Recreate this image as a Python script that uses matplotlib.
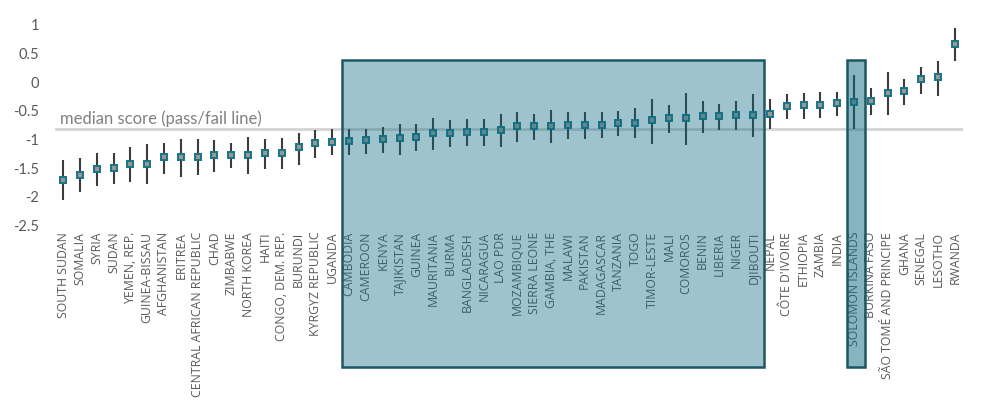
import numpy as np
import matplotlib.pyplot as plt
from matplotlib.patches import Rectangle

plt.rcParams['font.family'] = ['Lato', 'DejaVu Sans']

countries = ["SOUTH SUDAN", "SOMALIA", "SYRIA", "SUDAN", "YEMEN, REP.", "GUINEA-BISSAU",
             "AFGHANISTAN", "ERITREA", "CENTRAL AFRICAN REPUBLIC", "CHAD", "ZIMBABWE",
             "NORTH KOREA", "HAITI", "CONGO, DEM. REP.", "BURUNDI", "KYRGYZ REPUBLIC",
             "UGANDA", "CAMBODIA", "CAMEROON", "KENYA", "TAJIKISTAN", "GUINEA",
             "MAURITANIA", "BURMA", "BANGLADESH", "NICARAGUA", "LAO PDR", "MOZAMBIQUE",
             "SIERRA LEONE", "GAMBIA, THE", "MALAWI", "PAKISTAN", "MADAGASCAR",
             "TANZANIA", "TOGO", "TIMOR-LESTE", "MALI", "COMOROS", "BENIN", "LIBERIA",
             "NIGER", "DJIBOUTI", "NEPAL", "CÔTE D'IVOIRE", "ETHIOPIA", "ZAMBIA", "INDIA",
             "SOLOMON ISLANDS", "BURKINA FASO", "SÃO TOMÉ AND PRINCIPE", "GHANA",
             "SENEGAL", "LESOTHO", "RWANDA"]

score = [-1.71, -1.62, -1.52, -1.49, -1.43, -1.42, -1.31, -1.31, -1.30, -1.27,
         -1.27, -1.27, -1.24, -1.24, -1.14, -1.07, -1.04, -1.03, -1.01, -0.99,
         -0.98, -0.96, -0.88, -0.88, -0.87, -0.87, -0.83, -0.77, -0.77, -0.77,
         -0.75, -0.75, -0.75, -0.71, -0.71, -0.67, -0.63, -0.63, -0.60, -0.60,
         -0.57, -0.57, -0.55, -0.41, -0.40, -0.40, -0.37, -0.34, -0.33, -0.19,
         -0.16, 0.05, 0.08, 0.67]

upper = [-1.36, -1.33, -1.24, -1.24, -1.14, -1.08, -1.06, -0.99, -0.99, -1.01,
         -1.07, -0.96, -0.99, -0.98, -0.88, -0.84, -0.82, -0.81, -0.81, -0.79,
         -0.73, -0.73, -0.62, -0.66, -0.64, -0.64, -0.55, -0.53, -0.56, -0.49,
         -0.53, -0.53, -0.53, -0.50, -0.46, -0.30, -0.40, -0.19, -0.33, -0.39,
         -0.33, -0.21, -0.29, -0.20, -0.19, -0.17, -0.17, 0.12, -0.11, 0.18,
         0.05, 0.26, 0.37, 0.95]

lower = [-2.06, -1.91, -1.82, -1.77, -1.74, -1.77, -1.61, -1.66, -1.62, -1.57,
         -1.50, -1.60, -1.52, -1.52, -1.45, -1.32, -1.27, -1.28, -1.26, -1.23,
         -1.27, -1.21, -1.18, -1.13, -1.11, -1.11, -1.14, -1.04, -1.01, -1.07,
         -1.00, -1.00, -0.98, -0.94, -0.97, -1.08, -0.89, -1.10, -0.89, -0.84,
         -0.84, -0.95, -0.81, -0.64, -0.64, -0.63, -0.59, -0.82, -0.57, -0.57,
         -0.40, -0.20, -0.24, 0.37]

median = -0.81
yticks = [1, 0.5, 0, -0.5, -1, -1.5, -2, -2.5]
ytick_labels = ["1", "0.5", "0", "-0.5", "-1", "-1.5", "-2", "-2.5"]

# highlighted groups (first, last, fill alpha)
groups = [("CAMBODIA", "DJIBOUTI", 0.40), ("SOLOMON ISLANDS", "SOLOMON ISLANDS", 0.50)]

x = np.arange(len(countries))
score = np.array(score)
yerr = [score - np.array(lower), np.array(upper) - score]

fig = plt.figure(figsize=(10, 4.04), dpi=100)
ax = fig.add_axes([0.0546, 0.4418, 0.9088, 0.4972])

ax.axhline(median, color='#d4d4d4', lw=2, zorder=1)
ax.text(-0.2, median + 0.025, "median score (pass/fail line)", fontsize=12,
        color='#808080', ha='left', va='bottom')

ax.errorbar(x, score, yerr=yerr, fmt='none', ecolor='#3c3c3c', elinewidth=1.5,
            capsize=0, zorder=2, clip_on=False)
ax.plot(x, score, 's', ms=4.8, mfc='#999994', mec='#167587', mew=1.4, zorder=3,
        clip_on=False)

for first, last, a in groups:
    i0 = countries.index(first)
    i1 = countries.index(last)
    rect = Rectangle((i0 - 0.44, -0.704), (i1 - i0) + 1.11, 1.528,
                     transform=ax.get_xaxis_transform(), clip_on=False,
                     facecolor=(0.055, 0.416, 0.502, a), edgecolor='#1c5667',
                     lw=1.8, zorder=5)
    ax.add_patch(rect)

ax.set_xlim(-0.5, len(countries) - 0.5)
ax.set_ylim(-2.5, 1.0)
ax.set_xticks(x)
ax.set_xticklabels(countries, rotation=90, fontsize=8.8, color='#595959',
                   family=['Open Sans', 'DejaVu Sans'])
ax.set_yticks(yticks)
ax.set_yticklabels(ytick_labels, fontsize=10.5, color='#595959')
ax.tick_params(axis='both', length=0)
ax.tick_params(axis='x', pad=4.5)
ax.tick_params(axis='y', pad=11)
for s in ax.spines.values():
    s.set_visible(False)

fig.savefig('out.png', dpi=100)
